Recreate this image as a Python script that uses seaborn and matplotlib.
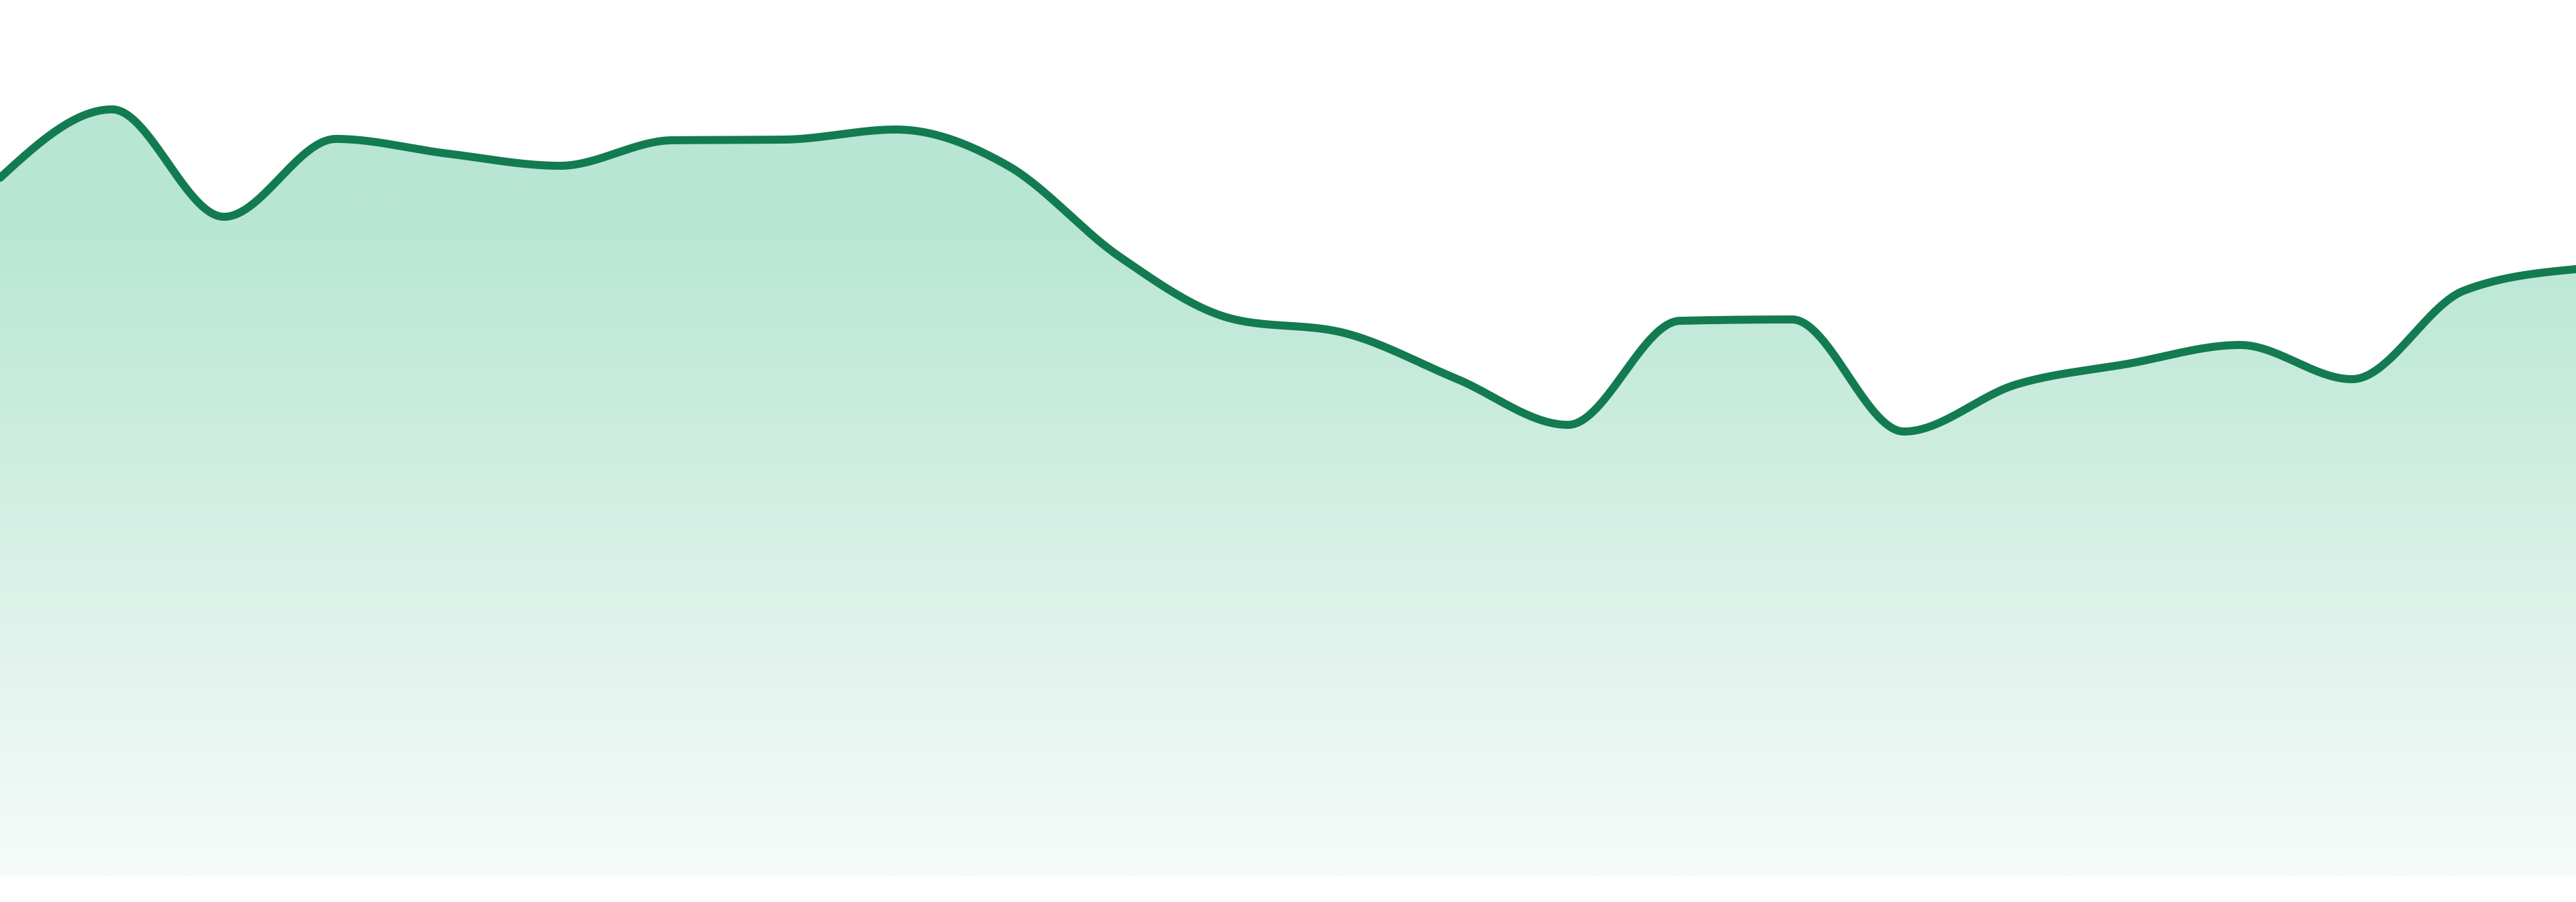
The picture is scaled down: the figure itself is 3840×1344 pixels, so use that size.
import numpy as np
import pandas as pd
import matplotlib
matplotlib.use('Agg')
import matplotlib.pyplot as plt
from matplotlib.colors import LinearSegmentedColormap
import seaborn as sns

# values (units above the fill baseline)
points = list(range(24))
values = [1040, 1142, 982, 1098, 1076, 1058, 1096, 1097, 1112, 1058, 922, 830,
          809, 741, 672, 827, 829, 662, 732, 763, 791, 740, 872, 904]

line_color = '#137b50'
fill_top = '#b8e6d4'
fill_bottom = '#f6fbf9'
fade_start = 972  # fill stays solid above this height, then fades out


def monotone_x(x, y, steps=60):
    # same idea as d3.curveMonotoneX (Steffen slopes, cubic Hermite)
    x = np.asarray(x, float)
    y = np.asarray(y, float)
    h = np.diff(x)
    s = np.diff(y) / h
    t = np.zeros(len(x))
    for i in range(1, len(x) - 1):
        p = (s[i - 1] * h[i] + s[i] * h[i - 1]) / (h[i - 1] + h[i])
        t[i] = (np.sign(s[i - 1]) + np.sign(s[i])) * min(abs(s[i - 1]), abs(s[i]), 0.5 * abs(p))
    t[0] = (3 * s[0] - t[1]) / 2
    t[-1] = (3 * s[-1] - t[-2]) / 2
    xs, ys = [], []
    for i in range(len(x) - 1):
        u = np.linspace(0, 1, steps, endpoint=(i == len(x) - 2))
        h00 = 2 * u**3 - 3 * u**2 + 1
        h10 = u**3 - 2 * u**2 + u
        h01 = -2 * u**3 + 3 * u**2
        h11 = u**3 - u**2
        xs.append(x[i] + u * h[i])
        ys.append(h00 * y[i] + h10 * h[i] * t[i] + h01 * y[i + 1] + h11 * h[i] * t[i + 1])
    return np.concatenate(xs), np.concatenate(ys)


sns.set_theme(style='white')

fig = plt.figure(figsize=(38.4, 13.44), dpi=100)
ax = fig.add_axes([0, 0, 1, 1])

cx, cy = monotone_x(points, values)
curve = pd.DataFrame({'x': cx, 'y': cy})

# gradient fill under the curve
top = max(values)
area = ax.fill_between(curve['x'], curve['y'], 0, facecolor='none', edgecolor='none')
cmap = LinearSegmentedColormap.from_list(
    'fade', [(0, fill_bottom), (fade_start / top, fill_top), (1, fill_top)])
grad = np.linspace(0, 1, 1024).reshape(-1, 1)
img = ax.imshow(grad, cmap=cmap, aspect='auto', origin='lower',
                extent=[0, len(points) - 1, 0, top], zorder=1, interpolation='bilinear')
img.set_clip_path(area.get_paths()[0], transform=ax.transData)

sns.lineplot(data=curve, x='x', y='y', ax=ax, color=line_color, linewidth=8.6,
             sort=False, estimator=None, zorder=3)

ax.set_xlim(0, len(points) - 1)
ax.set_ylim(-39, 1305)
ax.set_axis_off()

fig.savefig('out.png', dpi=100, facecolor='white')
